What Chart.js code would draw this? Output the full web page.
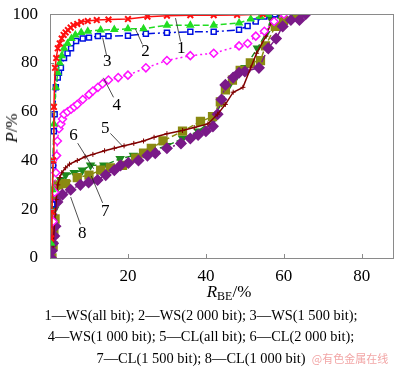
<!DOCTYPE html>
<html>
<head>
<meta charset="utf-8">
<script src="https://cdn.jsdelivr.net/npm/chart.js@4.4.1/dist/chart.umd.min.js"></script>
<style>
  html, body { margin: 0; padding: 0; background: #fff; }
  #wrap { position: relative; width: 400px; height: 369px; font-family: "Liberation Serif", "DejaVu Serif", serif; color: #000; }
  #plot { position: absolute; left: 0; top: 0; }
  .ytitle { position: absolute; left: 12px; top: 128px; transform: translate(-50%, -50%) rotate(-90deg); font-size: 17px; white-space: nowrap; }
  .xtitle { position: absolute; left: 229px; top: 293px; transform: translate(-50%, -50%); font-size: 17px; white-space: nowrap; }
  .xtitle sub { font-size: 12px; vertical-align: -3px; }
  .leg { position: absolute; left: 201px; transform: translate(-50%, -50%); font-size: 14.4px; white-space: nowrap; }
  .mark { position: absolute; left: 350px; top: 358px; transform: translate(-50%, -50%); font-family: "Noto Sans CJK SC", sans-serif; font-size: 11px; color: #f2a6a6; white-space: nowrap; }
</style>
</head>
<body>
<div id="wrap">
  <canvas id="plot" width="400" height="300"></canvas>
  <div class="ytitle"><i>P</i>/%</div>
  <div class="xtitle"><i>R</i><sub>BE</sub>/%</div>
  <div class="leg" style="top:315px">1—WS(all bit); 2—WS(2 000 bit); 3—WS(1 500 bit);</div>
  <div class="leg" style="top:336px">4—WS(1 000 bit); 5—CL(all bit); 6—CL(2 000 bit);</div>
  <div class="leg" style="top:358px">7—CL(1 500 bit); 8—CL(1 000 bit)</div>
  <div class="mark">@有色金属在线</div>
</div>
<script>
// 1 - WS(all bit)
var ws1X = [0.3, 0.5, 0.8, 1.0, 1.3, 1.6, 2.0, 2.5, 3.0, 3.5, 4.0, 4.6, 5.3, 6.0, 7.0, 8.0, 9.7, 12, 15, 20, 25, 30, 36, 42, 48, 54.6];
var ws1Y = [8, 19, 40, 62, 78, 82, 86, 88, 90, 91.5, 92.5, 93.5, 94.5, 95.5, 96, 96.8, 97.2, 97.6, 97.8, 98, 99, 99.4, 99.6, 99.6, 99.7, 100];
// 2 - WS(2 000 bit)
var ws2X = [0.3, 0.6, 1.0, 1.5, 2.0, 2.5, 3.0, 3.6, 4.5, 5.5, 6.5, 8, 9.7, 13, 16.5, 20, 24, 30, 36, 42, 48.5, 51.5, 54, 56];
var ws2Y = [6, 28, 55, 70, 76, 80, 83, 86, 88, 90, 91.5, 92.5, 93, 93.5, 93.7, 94, 94, 95.5, 95.5, 95.5, 96.4, 98, 99, 100];
// 3 - WS(1 500 bit)
var ws3X = [0.6, 0.8, 1.0, 1.2, 1.5, 2.0, 2.3, 2.8, 3.6, 4.5, 5.4, 6.7, 8.4, 10, 12.3, 15, 20, 24.6, 30, 36, 42, 48.5, 50.7, 52.8, 55, 57.7];
var ws3Y = [22, 38, 52, 59, 70, 74, 76, 78, 82, 84, 86, 89, 90, 90.4, 91, 91, 91.2, 92, 92.4, 92.8, 92.8, 93.6, 95.2, 97, 99, 100];
// 4 - WS(1 000 bit)
var ws4X = [0.8, 1.2, 1.5, 1.7, 1.9, 2.3, 2.8, 3.2, 3.6, 4.5, 5.4, 6.2, 7.0, 8.4, 10, 11, 12.3, 13.5, 15, 17.5, 20, 24.6, 30, 36, 42, 48.5, 50.7, 52.8, 55, 57.5, 60];
var ws4Y = [15, 27, 35, 42, 48, 53, 55, 57, 59, 60, 61, 62, 63, 65, 67, 68.5, 70, 71.5, 73, 74, 75, 78, 81, 83, 84, 87, 88, 91, 93, 97, 100];
// 5 - CL(all bit)
var cl5X = [0.8, 1.2, 1.6, 2.0, 2.5, 3.0, 4.0, 5.0, 7.0, 9.0, 11, 14, 16.5, 19, 21.5, 24, 26.7, 30, 34, 37, 40.5, 43, 45, 47, 49.5, 51.5, 53, 55.4, 57, 58.5];
var cl5Y = [5, 15, 24, 30, 33, 35, 37, 38.5, 40, 41.5, 42.5, 44, 45, 46, 47, 48, 49.5, 51, 52.3, 53.5, 55, 59, 63, 68, 70, 78, 84, 91, 97.6, 100];
// 6 - CL(2 000 bit)
var cl6X = [0.5, 0.8, 1.2, 1.6, 2.0, 2.7, 4, 6.2, 8.3, 10.4, 13.8, 18, 21.4, 26, 30, 34, 38, 42, 44, 46, 48, 50, 53.2, 55.4, 56.7, 58.5, 62.6];
var cl6Y = [2, 10, 20, 26, 29, 32, 34, 35, 36, 38, 38, 40.7, 42, 44, 46, 49, 52, 57, 64, 71, 75, 78, 86, 92, 98, 100, 100];
// 7 - CL(1 500 bit)
var cl7X = [0.5, 0.8, 1.0, 1.3, 1.6, 2.2, 4, 7, 10, 13, 15.5, 18.6, 22, 24, 26, 29, 34, 38.6, 41.7, 43.7, 45, 46.8, 48.8, 51.4, 54, 55.3, 57.8, 59.9, 63.5];
var cl7Y = [0, 5, 10, 16, 24, 30, 30.5, 33, 34, 36, 37, 38, 41, 43, 45, 48, 52, 56, 58, 64, 69, 73, 77, 80, 81, 87, 95, 97.4, 100];
// 8 - CL(1 000 bit)
var cl8X = [0.3, 0.5, 0.8, 1.1, 1.4, 1.9, 3.2, 5.3, 7.8, 9.9, 12.2, 14.3, 16.5, 18.1, 20.1, 22.7, 25, 27, 30, 33.6, 36, 38, 40, 41.8, 43, 44, 45, 47, 48.5, 50, 53.6, 56, 58, 59.7, 61.8, 64, 65.6];
var cl8Y = [0, 3, 6, 9, 13, 23, 26, 28, 30, 31, 32, 34, 36, 38, 39, 40, 42, 43, 45, 47, 49, 50.5, 52, 54, 59, 65, 71, 74, 76, 76.5, 78, 86, 90, 95, 97.6, 97.6, 100];

var xTicks = [0, 20, 40, 60, 80];
var yTicks = [0, 20, 40, 60, 80, 100];

// curve numbers: [text, label x, label y, line from x, y, line to x, y] in data units
var callouts = [
  ['1', 33.7, 86, 32.2, 98.4, 33.5, 88.8],
  ['2', 24.5, 84.8, 21.9, 94, 23.7, 87.6],
  ['3', 14.7, 80.4, 13.5, 90.4, 14.5, 83.2],
  ['4', 17.1, 62.7, 13.7, 73.9, 16.3, 65.9],
  ['5', 14.2, 53.1, 18.6, 45.9, 15.5, 51.1],
  ['6', 6.0, 50.3, 7.1, 47.1, 11.2, 36.6],
  ['7', 14.2, 19.0, 13.5, 22.6, 10.6, 33.6],
  ['8', 8.3, 10.2, 7.8, 13.8, 5.3, 25]
];

function pts(xs, ys) {
  return xs.map(function (x, i) { return { x: x, y: ys[i] }; });
}

function series(xs, ys, color, style, opts) {
  var d = {
    data: pts(xs, ys),
    showLine: true,
    borderColor: color,
    backgroundColor: color,
    pointBorderColor: color,
    pointBackgroundColor: color,
    borderWidth: 1.5,
    pointStyle: style,
    pointRadius: 3.5,
    pointBorderWidth: 1.5
  };
  for (var k in opts) d[k] = opts[k];
  return d;
}

var framePlugin = {
  id: 'frame',
  afterDatasetsDraw: function (chart) {
    var ctx = chart.ctx, a = chart.chartArea;
    var xs = chart.scales.x, ys = chart.scales.y;
    ctx.save();
    ctx.strokeStyle = '#8a8a8a';
    ctx.lineWidth = 1;
    ctx.strokeRect(Math.round(a.left) + 0.5, Math.round(a.top) + 0.5, Math.round(a.right - a.left), Math.round(a.bottom - a.top));
    // inward tick marks
    ctx.beginPath();
    xTicks.forEach(function (v) {
      if (v === 0) return;
      var px = Math.round(xs.getPixelForValue(v)) + 0.5;
      ctx.moveTo(px, a.bottom);
      ctx.lineTo(px, a.bottom - 4);
    });
    yTicks.forEach(function (v) {
      if (v === 0 || v === 100) return;
      var py = Math.round(ys.getPixelForValue(v)) + 0.5;
      ctx.moveTo(a.left, py);
      ctx.lineTo(a.left + 4, py);
    });
    ctx.stroke();
    // curve numbers with leader lines
    ctx.strokeStyle = '#222';
    ctx.lineWidth = 0.8;
    ctx.fillStyle = '#000';
    ctx.font = '17px "Liberation Serif"';
    ctx.textAlign = 'center';
    ctx.textBaseline = 'middle';
    callouts.forEach(function (c) {
      ctx.beginPath();
      ctx.moveTo(xs.getPixelForValue(c[3]), ys.getPixelForValue(c[4]));
      ctx.lineTo(xs.getPixelForValue(c[5]), ys.getPixelForValue(c[6]));
      ctx.stroke();
      ctx.fillText(c[0], xs.getPixelForValue(c[1]), ys.getPixelForValue(c[2]));
    });
    ctx.restore();
  }
};

var ctx = document.getElementById('plot').getContext('2d');
var chart = new Chart(ctx, {
  type: 'scatter',
  data: {
    datasets: [
      series(ws1X, ws1Y, '#ff1010', 'crossRot', { order: 1, pointRadius: 4, pointBorderWidth: 2 }),
      series(ws2X, ws2Y, '#22dd22', 'triangle', { order: 2, borderDash: [6, 3] }),
      series(ws3X, ws3Y, '#0010e0', 'rect', { order: 3, pointBackgroundColor: '#fff', borderDash: [8, 3, 2, 3] }),
      series(ws4X, ws4Y, '#ff10ff', 'rectRot', { order: 4, pointBackgroundColor: '#fff', borderDash: [2, 3], pointRadius: 4 }),
      series(cl5X, cl5Y, '#800000', 'cross', { order: 5, pointRadius: 2.5, pointBorderWidth: 1 }),
      series(cl6X, cl6Y, '#1e8a1e', 'triangle', { order: 8, rotation: 180, borderDash: [6, 3], pointRadius: 4 }),
      series(cl7X, cl7Y, '#8a8a12', 'rect', { order: 7, borderDash: [6, 3], pointRadius: 5.5 }),
      series(cl8X, cl8Y, '#7a1a88', 'rectRot', { order: 6, borderDash: [8, 3, 2, 3], pointRadius: 5 })
    ]
  },
  options: {
    responsive: false,
    animation: false,
    layout: { padding: { left: 0, right: 6, top: 8, bottom: 0 } },
    plugins: { legend: { display: false }, tooltip: { enabled: false } },
    scales: {
      x: {
        type: 'linear',
        min: 0,
        max: 88,
        afterBuildTicks: function (s) { s.ticks = xTicks.map(function (v) { return { value: v }; }); },
        afterFit: function (s) { s.height = 42; },
        grid: { display: false },
        border: { display: false },
        ticks: {
          padding: 0,
          color: '#000',
          font: { family: 'Liberation Serif', size: 17 },
          maxRotation: 0,
          callback: function (v) { return v === 0 ? '' : v; }
        }
      },
      y: {
        min: 0,
        max: 100,
        afterBuildTicks: function (s) { s.ticks = yTicks.map(function (v) { return { value: v }; }); },
        afterFit: function (s) { s.width = 50; },
        grid: { display: false },
        border: { display: false },
        ticks: {
          padding: 4,
          color: '#000',
          font: { family: 'Liberation Serif', size: 17 }
        }
      }
    }
  },
  plugins: [framePlugin]
});
</script>
</body>
</html>
